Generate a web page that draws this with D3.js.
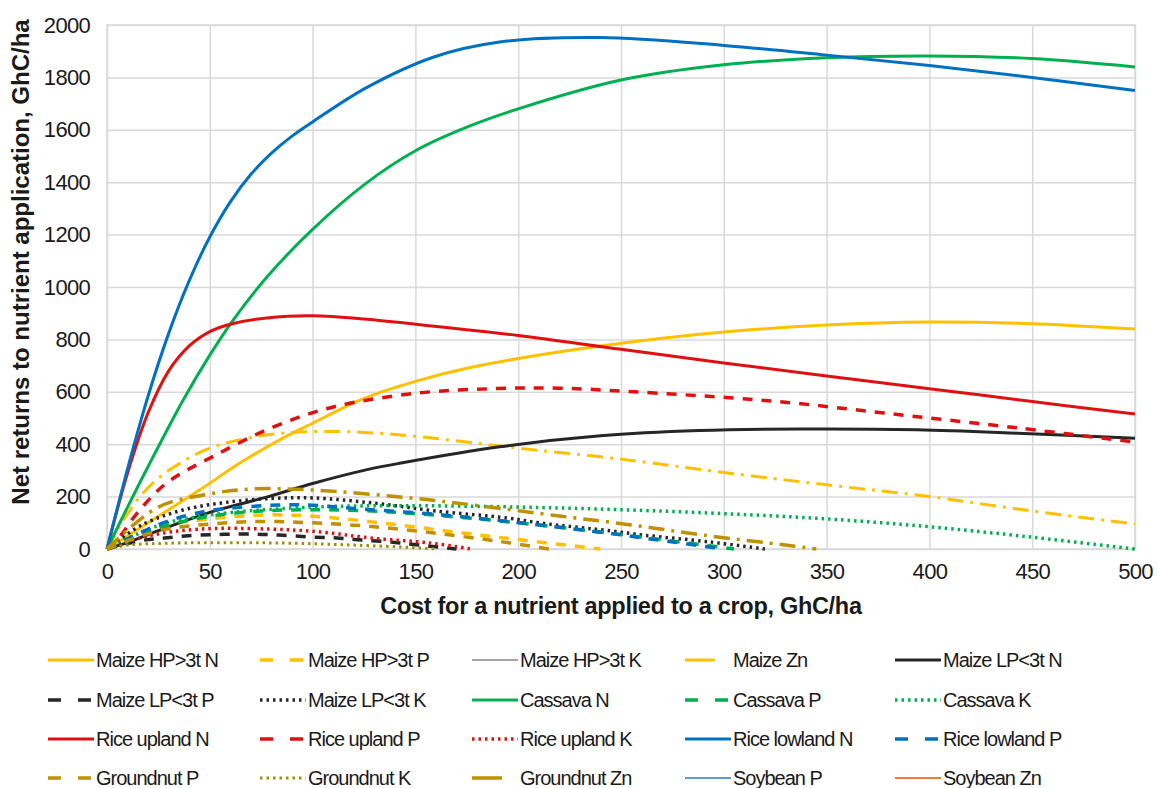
<!DOCTYPE html>
<html>
<head>
<meta charset="utf-8">
<script src="https://cdn.jsdelivr.net/npm/d3@7"></script>
<style>
  body { margin: 0; background: #fff; }
  text { font-family: "Liberation Sans", Arial, sans-serif; fill: #1a1a1a; }
</style>
</head>
<body>
<div id="chart"></div>
<script>
// x tick values and y tick values
var xTicks = [0, 50, 100, 150, 200, 250, 300, 350, 400, 450, 500];
var yTicks = [0, 200, 400, 600, 800, 1000, 1200, 1400, 1600, 1800, 2000];

// series: [cost, net return] pairs
var maizeHP_N = [[0,0],[20,100],[45,225],[65,330],[86,425],[100,480],[125,575],[150,640],[175,690],[200,727],[250,785],[300,828],[350,855],[400,866],[450,860],[500,840]];
var maizeHP_P = [[0,0],[12,50],[25,85],[50,115],[78,130],[100,125],[134,99],[173,61],[202,34],[240,0]];
var maizeHP_K = [[0,0]];
var maize_Zn = [[0,0],[8,110],[16,200],[25,270],[35,325],[50,385],[75,432],[100,448],[125,445],[150,430],[175,408],[200,385],[250,343],[300,292],[350,245],[400,200],[450,145],[500,95]];
var maizeLP_N = [[0,0],[10,25],[25,70],[50,140],[78,199],[100,250],[126,302],[143,328],[191,390],[240,432],[288,452],[336,458],[394,455],[443,442],[500,423]];
var maizeLP_P = [[0,0],[15,30],[28,42],[45,53],[70,57],[84,53],[99,46],[112,42],[124,34],[138,27],[152,15],[170,0]];
var maizeLP_K = [[0,0],[17,92],[37,149],[58,178],[80,193],[100,195],[130,175],[160,145],[195,118],[211,99],[245,69],[261,53],[293,27],[320,0]];
var cassava_N = [[0,0],[10,160],[20,315],[37,568],[50,740],[61,870],[78,1040],[100,1220],[125,1390],[150,1520],[175,1610],[200,1680],[250,1790],[300,1848],[350,1875],[400,1882],[450,1872],[500,1840]];
var cassava_P = [[0,0],[25,80],[50,125],[75,145],[100,150],[125,146],[150,135],[200,100],[250,55],[305,0]];
var cassava_K = [[0,0],[25,90],[50,130],[100,160],[150,165],[200,160],[250,150],[300,135],[350,115],[400,85],[450,45],[500,0]];
var riceUp_N = [[0,0],[10,290],[20,520],[30,680],[40,775],[50,830],[61,860],[80,884],[100,890],[125,878],[150,858],[200,815],[250,762],[300,710],[350,660],[400,612],[450,563],[500,515]];
var riceUp_P = [[0,0],[6,46],[15,140],[29,252],[52,355],[81,466],[110,542],[151,595],[188,612],[220,614],[256,600],[305,576],[334,557],[378,519],[443,462],[500,408]];
var riceUp_K = [[0,0],[20,50],[45,76],[79,76],[104,65],[128,42],[157,23],[177,0]];
var riceLow_N = [[0,0],[10,306],[20,584],[30,823],[40,1024],[50,1191],[60,1325],[70,1430],[80,1511],[90,1576],[100,1630],[126,1760],[159,1878],[191,1935],[240,1952],[300,1922],[350,1885],[400,1845],[450,1800],[500,1750]];
var riceLow_P = [[0,0],[27,99],[40,130],[53,150],[84,168],[100,167],[120,155],[163,130],[202,99],[243,61],[261,42],[300,0]];
var groundnut_P = [[0,0],[25,70],[50,95],[75,105],[100,100],[130,85],[160,60],[190,30],[215,0]];
var groundnut_K = [[0,0],[10,15],[30,22],[60,24],[90,22],[120,15],[150,5],[160,0]];
var groundnut_Zn = [[0,0],[25,160],[50,210],[70,229],[100,225],[150,193],[180,166],[220,126],[255,92],[290,53],[330,15],[345,0]];
var soybean_P = [[0,0]];
var soybean_Zn = [[0,0]];

var seriesNames = ["Maize HP>3t N","Maize HP>3t P","Maize HP>3t K","Maize Zn","Maize LP<3t N",
                   "Maize LP<3t P","Maize LP<3t K","Cassava N","Cassava P","Cassava K",
                   "Rice upland N","Rice upland P","Rice upland K","Rice lowland N","Rice lowland P",
                   "Groundnut P","Groundnut K","Groundnut Zn","Soybean P","Soybean Zn"];
var seriesData = [maizeHP_N, maizeHP_P, maizeHP_K, maize_Zn, maizeLP_N,
                  maizeLP_P, maizeLP_K, cassava_N, cassava_P, cassava_K,
                  riceUp_N, riceUp_P, riceUp_K, riceLow_N, riceLow_P,
                  groundnut_P, groundnut_K, groundnut_Zn, soybean_P, soybean_Zn];

// styles
var colors = ["#FFC000","#FFC000","#A5A5A5","#FFC000","#262626",
              "#262626","#262626","#00B050","#00B050","#00B050",
              "#E01010","#E01010","#E01010","#0070C0","#0070C0",
              "#BF9000","#9C9000","#BF9000","#5B9BD5","#ED7D31"];
var dashes = ["","10,9","","16,7,3,7","",
              "10,9","2.5,4","","10,9","2.5,4",
              "","10,9","2.5,4","","10,9",
              "10,9","2.5,4","16,7,3,7","",""];
var legDashes = ["","13,17","","30,40","",
                 "13,17","2.5,4","","13,17","2.5,4",
                 "","13,17","2.5,4","","13,17",
                 "13,17","2.5,4","30,40","",""];
var widths = [3,3.5,2,3,3, 3.5,3.5,3,3.5,3.5, 3,3.5,3.5,3,3.5, 3.5,3,3.5,2,2];

var W = 1158, H = 788;
var margin = { top: 25, right: 23, bottom: 239, left: 107 };
var width = W - margin.left - margin.right;
var height = H - margin.top - margin.bottom;

var svg = d3.select("#chart").append("svg")
    .attr("width", W)
    .attr("height", H);

var g = svg.append("g")
    .attr("transform", "translate(" + margin.left + "," + margin.top + ")");

var x = d3.scaleLinear().domain([0, 500]).range([0, width]);
var y = d3.scaleLinear().domain([0, 2000]).range([height, 0]);

// grid
g.append("g")
    .call(d3.axisLeft(y).tickValues(yTicks).tickSize(-width).tickFormat(""))
    .call(function (s) {
        s.select(".domain").remove();
        s.selectAll("line").attr("stroke", "#d9d9d9").attr("stroke-width", 1.5);
    });
g.append("g")
    .call(d3.axisBottom(x).tickValues(xTicks).tickSize(height).tickFormat(""))
    .call(function (s) {
        s.select(".domain").remove();
        s.selectAll("line").attr("stroke", "#d9d9d9").attr("stroke-width", 1.5);
    });
g.append("rect")
    .attr("width", width).attr("height", height)
    .attr("fill", "none").attr("stroke", "#d9d9d9").attr("stroke-width", 1.5);

// tick labels
g.append("g")
    .attr("transform", "translate(0," + height + ")")
    .call(d3.axisBottom(x).tickValues(xTicks).tickSize(0).tickPadding(14).tickFormat(d3.format("d")))
    .call(function (s) {
        s.select(".domain").remove();
        s.selectAll("text").attr("font-size", "22px").attr("letter-spacing", "-0.7px")
            .style("font-family", "'Liberation Sans', Arial, sans-serif").attr("fill", "#1a1a1a");
    });
g.append("g")
    .call(d3.axisLeft(y).tickValues(yTicks).tickSize(0).tickPadding(17).tickFormat(d3.format("d")))
    .call(function (s) {
        s.select(".domain").remove();
        s.selectAll("text").attr("font-size", "22px").attr("letter-spacing", "-0.7px")
            .style("font-family", "'Liberation Sans', Arial, sans-serif").attr("fill", "#1a1a1a");
    });

// lines
var line = d3.line()
    .x(function (d) { return x(d[0]); })
    .y(function (d) { return y(d[1]); })
    .curve(d3.curveCatmullRom.alpha(0.5));

seriesData.forEach(function (data, i) {
    if (data.length < 2) return;
    g.append("path")
        .datum(data)
        .attr("d", line)
        .attr("fill", "none")
        .attr("stroke", colors[i])
        .attr("stroke-width", widths[i])
        .attr("stroke-dasharray", dashes[i] || null);
});

// axis titles
svg.append("text")
    .attr("x", margin.left + width / 2)
    .attr("y", 614)
    .attr("text-anchor", "middle")
    .attr("font-size", "23.5px")
    .attr("font-weight", "bold")
    .attr("letter-spacing", "-0.3px")
    .text("Cost for a nutrient applied to a crop, GhC/ha");

svg.append("text")
    .attr("transform", "translate(29,262) rotate(-90)")
    .attr("text-anchor", "middle")
    .attr("font-size", "24px")
    .attr("font-weight", "bold")
    .attr("letter-spacing", "0px")
    .text("Net returns to nutrient application, GhC/ha");

// legend
var legX = [48, 260, 472, 685, 895];
var legY = [660, 700, 739, 778];
var legend = svg.append("g");
seriesNames.forEach(function (name, i) {
    var col = i % 5, row = Math.floor(i / 5);
    var item = legend.append("g")
        .attr("transform", "translate(" + legX[col] + "," + legY[row] + ")");
    item.append("line")
        .attr("x1", 0).attr("x2", 46)
        .attr("y1", 0).attr("y2", 0)
        .attr("stroke", colors[i])
        .attr("stroke-width", widths[i])
        .attr("stroke-dasharray", legDashes[i] || null);
    item.append("text")
        .attr("x", 48)
        .attr("y", 7)
        .attr("font-size", "20px")
        .attr("letter-spacing", "-1px")
        .text(name);
});
</script>
</body>
</html>
